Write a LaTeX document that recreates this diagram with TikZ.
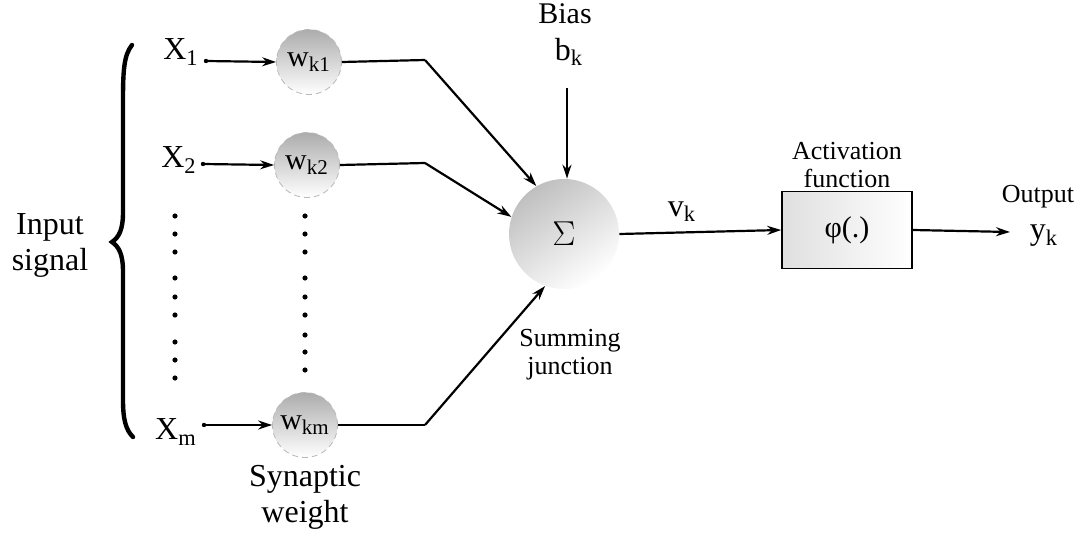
\documentclass[tikz,border=0pt]{standalone}
\usepackage{fontspec}
\setmainfont{Liberation Serif}
\usetikzlibrary{arrows.meta}
\begin{document}
\begin{tikzpicture}[x=0.5pt,y=-0.5pt,
  wire/.style={line width=1.1pt},
  arr/.style={wire,-{Stealth[length=7pt,width=4.5pt]}},
  weight/.style={circle,minimum size=32.5pt,inner sep=0pt,draw=gray!55,densely dashed,thin,
    top color=gray!65,bottom color=white,font=\fontsize{15}{17}\selectfont},
  lbl/.style={font=\fontsize{16}{18}\selectfont,inner sep=0pt},
  small/.style={font=\fontsize{13}{14}\selectfont,align=center,inner sep=0pt},
  dotc/.style={circle,fill=black,inner sep=0pt,minimum size=2.6pt},
  startdot/.style={circle,fill=black,inner sep=0pt,minimum size=2.2pt}]
\useasboundingbox (0,0) rectangle (1076,535);

% brace
\draw[line width=2.2pt,line cap=round]
  (132,45) .. controls (124,55) and (123,70) .. (123,100) -- (123,212)
  .. controls (123,230) and (119,237) .. (112,242)
  .. controls (119,247) and (123,254) .. (123,272) -- (123,400)
  .. controls (123,420) and (126,430) .. (133,437);
\node[lbl,align=center] (insig) at (50,245) {Input\\signal};

% inputs
\node[lbl] (x1) at (181,52) {X\textsubscript{1}};
\node[lbl] (x2) at (179,160) {X\textsubscript{2}};
\node[lbl] (xm) at (176,432) {X\textsubscript{m}};

% weights
\node[weight] (w1) at (309,62) {w\textsubscript{k1}};
\node[weight] (w2) at (307,165) {w\textsubscript{k2}};
\node[weight] (wm) at (305,425) {w\textsubscript{km}};
\node[lbl,align=center] (syn) at (305,497) {Synaptic\\weight};

% dots
\foreach \y in {216,234,252,278,297,315,342,360,378}
  \node[dotc] at (175,\y) {};
\foreach \y in {216,234,252,278,297,315,335,352,370}
  \node[dotc] at (305,\y) {};

% input arrows
\coordinate (s1) at (206,61);
\coordinate (s2) at (203,164);
\coordinate (sm) at (204,425);
\node[startdot] at (s1) {};
\node[startdot] at (s2) {};
\node[startdot] at (sm) {};
\draw[arr] (s1) -- (w1.west);
\draw[arr] (s2) -- (w2.west);
\draw[arr] (sm) -- (wm.west);

% summing junction
\node[circle,minimum size=55pt,inner sep=0pt,top color=gray!50,bottom color=white,shading angle=35,
  font=\fontsize{17}{19}\selectfont] (sum) at (564,234) {$\Sigma$};
\node[small] (sumlbl) at (570,355) {Summing\\junction};

\coordinate (c1) at (425,60);
\coordinate (c2) at (425,163);
\coordinate (cm) at (425,425);
\draw[wire] (w1.east) -- (c1);
\draw[wire] (w2.east) -- (c2);
\draw[wire] (wm.east) -- (cm);
\draw[arr] (c1) -- (sum.120);
\draw[arr] (c2) -- (sum.162);
\draw[arr] (cm) -- (sum.250);

% bias
\node[lbl,font=\fontsize{15}{17}\selectfont] (bias) at (565,14) {Bias};
\node[lbl] (bk) at (569,52) {b\textsubscript{k}};
\coordinate (bt) at (567,88);
\draw[arr] (bt) -- (sum.north -| bt);

% activation
\node[draw,line width=0.8pt,minimum width=65pt,minimum height=38.5pt,inner sep=0pt,
  left color=gray!25,right color=white,font=\fontsize{15}{17}\selectfont] (act) at (847,230) {φ(.)};
\node[small] (actlbl) at (847,165) {Activation\\function};
\node[lbl] (vk) at (682,212) {v\textsubscript{k}};
\draw[arr] (sum.east) -- (act.west);

% output
\coordinate (o) at (1010,232);
\draw[arr] (act.east) -- (o);
\node[small] (out) at (1038,197) {Output};
\node[lbl] (yk) at (1044,236) {y\textsubscript{k}};
\end{tikzpicture}
\end{document}
